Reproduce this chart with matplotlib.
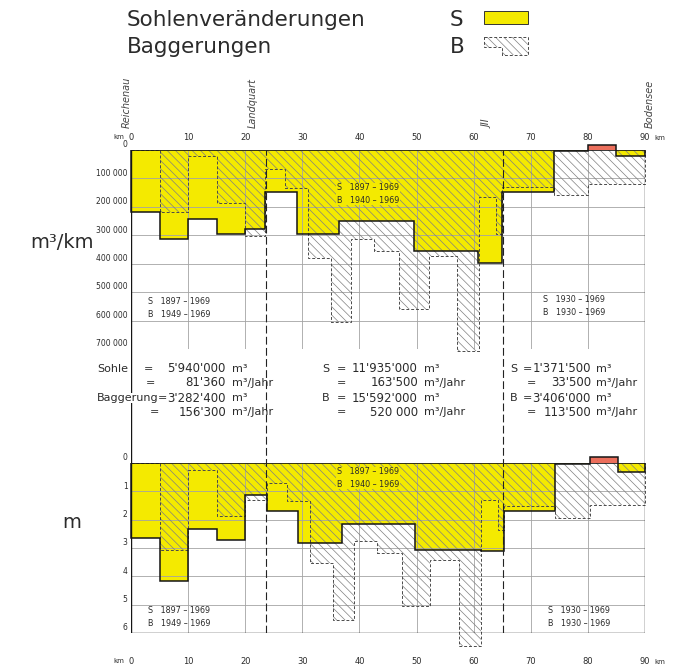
import matplotlib.pyplot as plt
import matplotlib.patches as mpatches
import matplotlib.transforms as mtransforms

plt.rcParams['font.family'] = ['DejaVu Sans']
plt.rcParams['hatch.linewidth'] = 0.5

W, H = 673, 671

GELB = '#f4ea00'
ROT = '#ec6f5c'
SCHRAFF = '#808080'
GITTER = '#a3a3a3'
TEXT = '#2b2b2b'
LINIE = '#151515'

km_ticks = [0, 10, 20, 30, 40, 50, 60, 70, 80, 90]

# Sohlenveraenderung in m3/km (positiv = Eintiefung, negativ = Auflandung)
s_kante_m3 = [0, 5, 10, 15, 20, 23.4, 29, 36.5, 49.5, 60.7, 65, 74, 80, 85, 90]
s_m3 = [218000, 312000, 243000, 295000, 278000, 146000, 295000, 249000,
        354000, 398000, 146000, 3000, -18000, 20000]

# Baggerungen in m3/km
b_kante_m3 = [0, 5, 10, 15, 20, 23.4, 26.9, 31, 35, 38.6, 42.5, 47, 52.2, 57,
              61, 63.9, 65, 74, 80, 90]
b_m3 = [0, 218000, 20000, 187000, 304000, 68000, 135000, 380000, 606000,
        312000, 354000, 561000, 374000, 707000, 164000, 296000, 131000,
        160000, 121000]

# mittlere Sohlenveraenderung in m
s_kante_m = [0, 5, 10, 15, 20, 23.8, 29.2, 36.9, 49.8, 61.3, 65.3, 74.2, 80.4, 85.2, 90]
s_m = [2.63, 4.15, 2.34, 2.72, 1.14, 1.70, 2.84, 2.14, 3.06, 3.10, 1.70,
       0.05, -0.22, 0.32]

# Baggerungen in m
b_kante_m = [0, 5, 10, 15, 20, 23.8, 27.3, 31.3, 35.4, 39, 43, 47.5, 52.4,
             57.4, 61.3, 64.2, 65.3, 74.2, 80.4, 90]
b_m = [0, 3.08, 0.23, 1.87, 1.29, 0.70, 1.35, 3.53, 5.55, 2.77, 3.16, 5.06,
       3.42, 6.45, 1.32, 2.37, 1.52, 1.93, 1.48]

m3_ticks = [0, 100000, 200000, 300000, 400000, 500000, 600000, 700000]
m3_labels = ['0', '100 000', '200 000', '300 000', '400 000', '500 000',
             '600 000', '700 000']
m_ticks = [0, 1, 2, 3, 4, 5, 6]
m_labels = ['0', '1', '2', '3', '4', '5', '6']

stationen = ['Reichenau', 'Landquart', 'JII', 'Bodensee']
station_km = [0, 23.6, 65.2, 90]
station_text_km = [-0.7, 21.3, 62.4, 90.9]

bilanz_1 = [('Sohle', '=', "5'940'000", 'm³'),
            ('', '=', "81'360", 'm³/Jahr'),
            ('Baggerung', '=', "3'282'400", 'm³'),
            ('', '=', "156'300", 'm³/Jahr')]
bilanz_2 = [('S', '=', "11'935'000", 'm³'),
            ('', '=', "163'500", 'm³/Jahr'),
            ('B', '=', "15'592'000", 'm³'),
            ('', '=', '520 000', 'm³/Jahr')]
bilanz_3 = [('S', '=', "1'371'500", 'm³'),
            ('', '=', "33'500", 'm³/Jahr'),
            ('B', '=', "3'406'000", 'm³'),
            ('', '=', "113'500", 'm³/Jahr')]


def fx(px):
    return px / W


def fy(py):
    return 1 - py / H


fig = plt.figure(figsize=(W / 100, H / 100), dpi=100)


def zeichne_panel(ax, s_kante, s_wert, b_kante, b_wert, ticks, labels):
    y_max = ticks[-1]
    ax.set_xlim(0, 90)
    ax.set_ylim(y_max, 0)
    ax.axis('off')

    ax.vlines(km_ticks[1:-1], 0, y_max, color=GITTER, lw=0.6, zorder=2)
    ax.hlines(ticks[1:], 0, 90, color=GITTER, lw=0.6, zorder=2)

    farben = [GELB if w > 0 else ROT for w in s_wert]
    breiten = [b - a for a, b in zip(s_kante[:-1], s_kante[1:])]
    ax.bar(s_kante[:-1], s_wert, width=breiten, align='edge', color=farben,
           lw=0, zorder=1, clip_on=False)

    ax.stairs(b_wert, b_kante, baseline=0, fill=True, facecolor='none',
              edgecolor=SCHRAFF, hatch='\\\\\\\\', lw=0, zorder=3, clip_on=False)
    ax.stairs(b_wert, b_kante, baseline=0, fill=False, color='#4a4a4a',
              lw=0.7, ls=(0, (3, 2)), zorder=4, clip_on=False)
    ax.stairs(s_wert, s_kante, baseline=0, fill=False, color=LINIE,
              lw=1.1, zorder=5, clip_on=False)
    ax.hlines(0, 0, 90, color=LINIE, lw=1.2, zorder=6)

    for t, l in zip(ticks, labels):
        ax.annotate(l, xy=(0, t), xytext=(-2.5, 0.5), textcoords='offset points',
                    ha='right', va='bottom', fontsize=5.5, color=TEXT)


ax_o = fig.add_axes([fx(131), fy(349), 514 / W, 199 / H])
zeichne_panel(ax_o, s_kante_m3, s_m3, b_kante_m3, b_m3, m3_ticks, m3_labels)

ax_u = fig.add_axes([fx(131), fy(633), 514 / W, 170 / H])
zeichne_panel(ax_u, s_kante_m, s_m, b_kante_m, b_m, m_ticks, m_labels)
ax_u.hlines(6, 0, 90, color=LINIE, lw=1.0, zorder=6)

# durchgehende Randlinien und Stationen
ax_l = fig.add_axes([fx(131), fy(633), 514 / W, (633 - 150) / H])
ax_l.set_xlim(0, 90)
ax_l.set_ylim(0, 1)
ax_l.axis('off')
ax_l.vlines([station_km[0], station_km[-1]], 0, 1, color=LINIE, lw=1.0)
ax_l.vlines(station_km[1:3], 0, 1, color='#222222', lw=0.8, ls=(0, (7, 3)))

# km-Beschriftung oben und unten
oben = mtransforms.blended_transform_factory(ax_o.transData, fig.transFigure)
unten = mtransforms.blended_transform_factory(ax_u.transData, fig.transFigure)
for trans, ypx in [(oben, 137), (unten, 661)]:
    for k in km_ticks:
        fig.text(k, fy(ypx), str(k), transform=trans, ha='center', va='center',
                 fontsize=6, color=TEXT)
    fig.text(km_ticks[0] - 1.2, fy(ypx), 'km', transform=trans, ha='right',
             va='center', fontsize=5, color=TEXT)
    fig.text(km_ticks[-1] + 1.6, fy(ypx + 1), 'km', transform=trans, ha='left',
             va='center', fontsize=5, color=TEXT)

for name, k in zip(stationen, station_text_km):
    fig.text(k, fy(128), name, transform=oben, rotation=90, ha='center',
             va='bottom', fontsize=7, style='italic', color='#444444')

# Ueberschrift mit Legende
fig.text(fx(127), fy(26), 'Sohlenveränderungen', fontsize=15.5, color=TEXT,
         ha='left', va='baseline')
fig.text(fx(127), fy(53), 'Baggerungen', fontsize=15.5, color=TEXT,
         ha='left', va='baseline')
fig.text(fx(450), fy(26), 'S', fontsize=15.5, color=TEXT, ha='left', va='baseline')
fig.text(fx(450), fy(53), 'B', fontsize=15.5, color=TEXT, ha='left', va='baseline')

fig.add_artist(mpatches.Rectangle((fx(484), fy(24)), 44 / W, 13 / H,
                                  transform=fig.transFigure, facecolor=GELB,
                                  edgecolor='#333333', lw=0.7))
ecken = [(484, 37), (528, 37), (528, 55), (502, 55), (502, 47), (484, 47)]
ecken = [(fx(x), fy(y)) for x, y in ecken]
fig.add_artist(mpatches.Polygon(ecken, closed=True, transform=fig.transFigure,
                                facecolor='none', edgecolor=SCHRAFF,
                                hatch='\\\\\\\\', lw=0))
fig.add_artist(mpatches.Polygon(ecken, closed=True, transform=fig.transFigure,
                                facecolor='none', edgecolor='#4a4a4a', lw=0.7,
                                ls=(0, (3, 2))))

# Achsentitel
fig.text(fx(62), fy(243), 'm³/km', fontsize=14, color=TEXT, ha='center', va='center')
fig.text(fx(72), fy(523), 'm', fontsize=14, color=TEXT, ha='center', va='center')

# Zeitraeume in den Abschnitten
zeitraum = [
    (148, 308, 'S   1897 – 1969\nB   1949 – 1969', None),
    (337, 194, 'S   1897 – 1969\nB   1940 – 1969', GELB),
    (543, 306, 'S   1930 – 1969\nB   1930 – 1969', None),
    (148, 617, 'S   1897 – 1969\nB   1949 – 1969', None),
    (337, 478, 'S   1897 – 1969\nB   1940 – 1969', GELB),
    (548, 617, 'S   1930 – 1969\nB   1930 – 1969', None),
]
for x, y, t, bg in zeitraum:
    box = dict(facecolor=bg, edgecolor='none', pad=0.5) if bg else None
    fig.text(fx(x), fy(y), t, fontsize=5.8, color=TEXT, ha='left', va='center',
             linespacing=1.45, bbox=box, zorder=10)

# Bilanzen zwischen den beiden Diagrammen
zeilen_y = [369, 383, 398, 412]
spalten = [
    (bilanz_1, 97, [144, 146, 158, 150], 226, 232),
    (bilanz_2, 322, [337, 337, 337, 337], 418, 424),
    (bilanz_3, 510, [523, 527, 523, 527], 591, 596),
]
for zeilen, x_name, x_gleich, x_zahl, x_einheit in spalten:
    for (name, gl, zahl, einheit), y, xg in zip(zeilen, zeilen_y, x_gleich):
        if name:
            fig.text(fx(x_name), fy(y), name, fontsize=8, color=TEXT, ha='left',
                     va='center', bbox=dict(facecolor='white', edgecolor='none', pad=0.3))
        fig.text(fx(xg), fy(y), gl, fontsize=8, color=TEXT, ha='left', va='center')
        fig.text(fx(x_zahl), fy(y), zahl, fontsize=8.5, color=TEXT, ha='right', va='center')
        fig.text(fx(x_einheit), fy(y), einheit, fontsize=8, color=TEXT, ha='left', va='center')

fig.savefig('out.png', dpi=100)
